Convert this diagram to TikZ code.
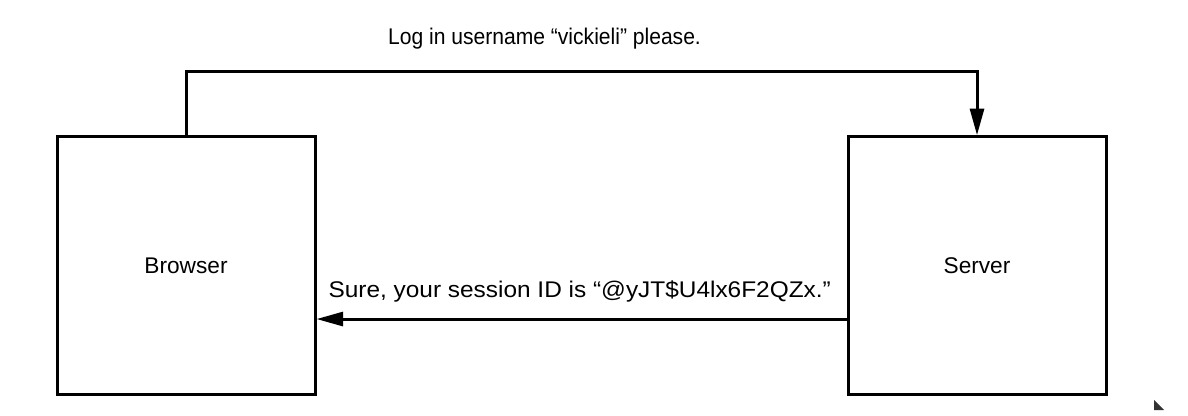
\documentclass[tikz,border=0pt]{standalone}
\usepackage{fontspec}
\setmainfont{Liberation Sans}
\usepackage{tikz}
\usetikzlibrary{arrows.meta,positioning,calc}

\begin{document}
\begin{tikzpicture}[x=0.75pt,y=-0.75pt,font=\fontsize{17pt}{20pt}\selectfont,
  party/.style={draw,line width=2.25pt,minimum size=193.5pt,inner sep=0pt},
  msg/.style={line width=2.25pt,-{Triangle[length=20pt,width=10.5pt]}}]
\useasboundingbox (0,0) rectangle (1188,415);
\node[party] (browser) at (186,265.7) {Browser};
\node[party] (server) at (977,265.7) {Server};

% request over the top
\draw[msg] (browser.north) -- ++(0,-64) coordinate (up)
  -| (server.north);
\node[anchor=base,transform shape,xscale=0.93] (req)
  at ($(up)!0.5!(up -| server.north)+(-37,-27)$)
  {Log in username “vickieli” please.};

% reply back
\coordinate (back) at ([yshift=-40pt]server.west);
\draw[msg] (back) -- (back -| browser.east);
\node[anchor=base west,transform shape,xscale=1.077] (ans)
  at ($(back -| browser.east)+(7,-22)$)
  {Sure, your session ID is “@yJT\$U4lx6F2QZx.”};

\fill[black!80] (1154,400) -- (1154,410) -- (1164,410) -- cycle;
\end{tikzpicture}
\end{document}
